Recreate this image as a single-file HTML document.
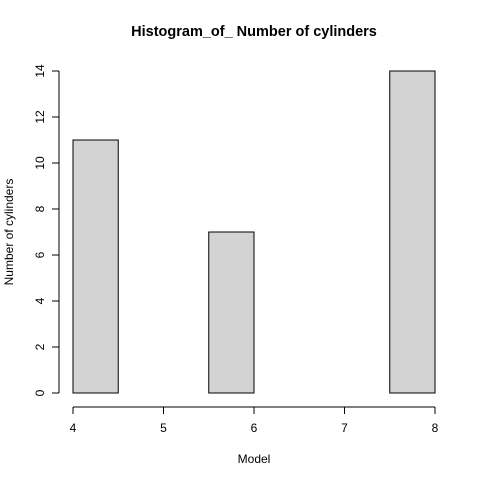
<!DOCTYPE html>
<html><head><meta charset="utf-8"><style>
html,body{margin:0;padding:0;background:#fff;}
svg text{font-family:"Liberation Sans",Arial,sans-serif;fill:#000;}
</style></head><body>
<svg id="chart" width="480" height="480" viewBox="0 0 480 480" xmlns="http://www.w3.org/2000/svg">
<rect width="480" height="480" fill="#fff"/>
<text x="254" y="36" font-size="14.5" font-weight="bold" text-anchor="middle">Histogram_of_ Number of cylinders</text>
<text x="254" y="463" font-size="12" text-anchor="middle">Model</text>
<text transform="translate(13,232) rotate(-90)" font-size="12" text-anchor="middle">Number of cylinders</text>
<g id="bars"></g>
<g id="xaxis"></g>
<g id="yaxis"></g>
</svg>
<script>
const binStarts = [4, 4.5, 5, 5.5, 6, 6.5, 7, 7.5];
const binWidth = 0.5;
const counts = [11, 0, 0, 7, 0, 0, 0, 14];
const xTicks = [4, 5, 6, 7, 8];
const yTicks = [0, 2, 4, 6, 8, 10, 12, 14];

const NS = "http://www.w3.org/2000/svg";
const x = v => 73 + (v - 4) * 90.5;
const y = v => 393 - v * 23;
function mk(tag, attrs, parent) {
  const e = document.createElementNS(NS, tag);
  for (const k in attrs) e.setAttribute(k, attrs[k]);
  parent.appendChild(e);
  return e;
}
const bars = document.getElementById('bars');
binStarts.forEach((b, i) => {
  const r = mk('rect', {x: x(b), y: y(counts[i]), width: x(b + binWidth) - x(b), height: y(0) - y(counts[i]), fill: '#d3d3d3', stroke: '#000', 'stroke-width': 1}, bars);
  
  
});
const xa = document.getElementById('xaxis');
mk('line', {x1: x(xTicks[0]), x2: x(xTicks[xTicks.length - 1]), y1: 407, y2: 407, stroke: '#000'}, xa);
xTicks.forEach(t => {
  mk('line', {x1: x(t), x2: x(t), y1: 407, y2: 414, stroke: '#000'}, xa);
  const tx = mk('text', {x: x(t), y: 432, 'font-size': 12, 'text-anchor': 'middle'}, xa);
  tx.textContent = t;
  
  
});
const ya = document.getElementById('yaxis');
mk('line', {x1: 59, x2: 59, y1: y(yTicks[0]), y2: y(yTicks[yTicks.length - 1]), stroke: '#000'}, ya);
yTicks.forEach(t => {
  mk('line', {x1: 52, x2: 59, y1: y(t), y2: y(t), stroke: '#000'}, ya);
  const tx = mk('text', {transform: 'translate(44,' + y(t) + ') rotate(-90)', 'font-size': 12, 'text-anchor': 'middle'}, ya);
  tx.textContent = t;
  
  
});
</script>
</body></html>
